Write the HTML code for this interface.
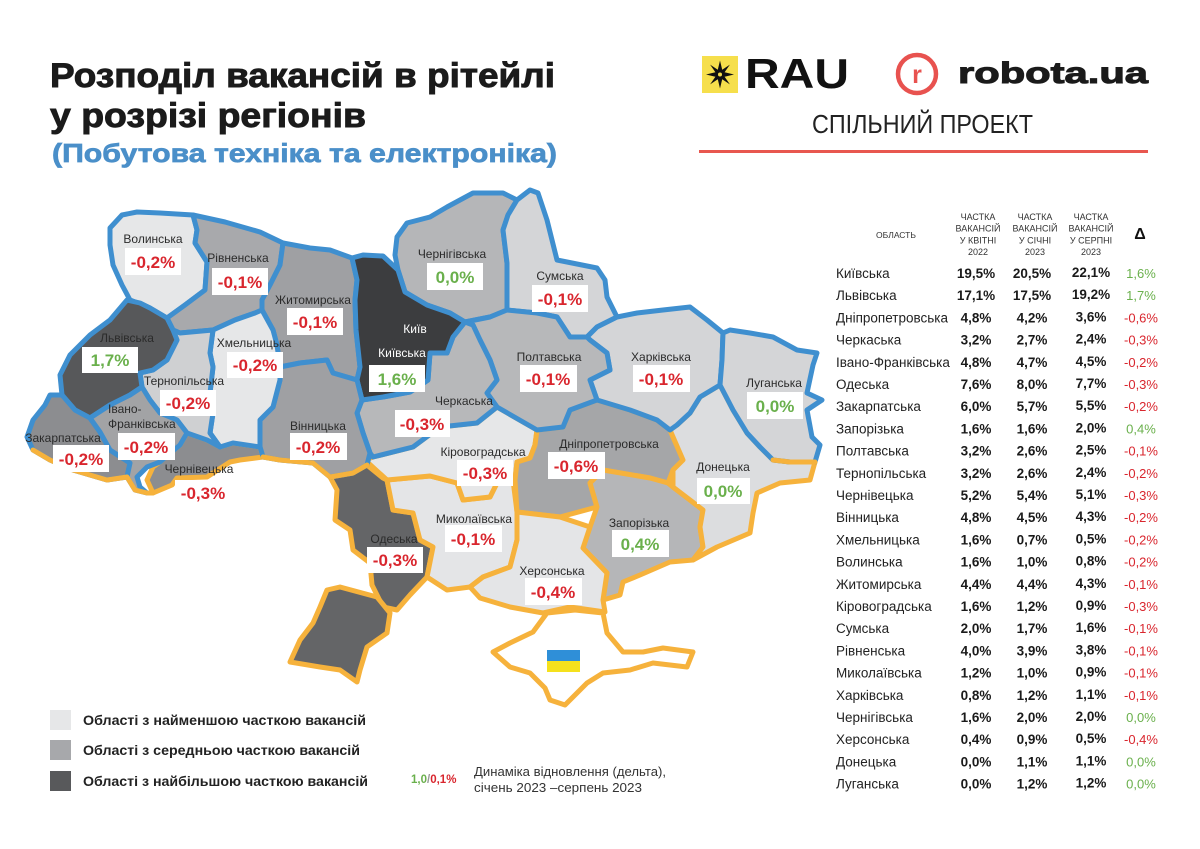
<!DOCTYPE html>
<html><head><meta charset="utf-8">
<style>
html,body{margin:0;padding:0;background:#fff;}
body{width:1200px;height:849px;overflow:hidden;}
svg{display:block;}
text{font-family:"Liberation Sans",sans-serif;}
</style></head>
<body>
<svg width="1200" height="849" viewBox="0 0 1200 849" xmlns="http://www.w3.org/2000/svg">
<rect width="1200" height="849" fill="#fff"/>

<!-- Title -->
<text x="50" y="87" font-size="34" font-weight="bold" fill="#1b1b1b" stroke="#1b1b1b" stroke-width="0.9" textLength="505" lengthAdjust="spacingAndGlyphs">Розподіл вакансій в рітейлі</text>
<text x="50" y="127" font-size="34" font-weight="bold" fill="#1b1b1b" stroke="#1b1b1b" stroke-width="0.9" textLength="316" lengthAdjust="spacingAndGlyphs">у розрізі регіонів</text>
<text x="52" y="162" font-size="26" font-weight="bold" fill="#4a8fc9" stroke="#4a8fc9" stroke-width="0.7" textLength="505" lengthAdjust="spacingAndGlyphs">(Побутова техніка та електроніка)</text>

<!-- RAU logo -->
<rect x="702" y="56" width="36" height="37" fill="#f6df4c"/>
<polygon fill="#111" points="734,74.5 724.6,76.8 729.9,84.4 722.2,79.3 720,88.5 717.8,79.3 710.1,84.4 715.4,76.8 706,74.5 715.4,72.2 710.1,64.6 717.8,69.7 720,60.5 722.2,69.7 729.9,64.6 724.6,72.2"/>
<circle cx="720" cy="74.5" r="2" fill="#f6df4c"/>
<text x="745" y="88" font-size="42" font-weight="bold" fill="#111" textLength="104" lengthAdjust="spacingAndGlyphs">RAU</text>

<!-- robota.ua logo -->
<circle cx="917" cy="74" r="19" fill="none" stroke="#e8524f" stroke-width="4.5"/>
<text x="917" y="83" font-size="25" font-weight="bold" fill="#e8524f" text-anchor="middle">r</text>
<text x="958" y="83" font-size="30" font-weight="bold" fill="#1a1a1a" stroke="#1a1a1a" stroke-width="1" textLength="190" lengthAdjust="spacingAndGlyphs">robota.ua</text>

<text x="812" y="133" font-size="26" fill="#222" textLength="221" lengthAdjust="spacingAndGlyphs">СПІЛЬНИЙ ПРОЕКТ</text>
<rect x="699" y="150" width="449" height="3" fill="#e8574f"/>

<!-- MAP -->
<g stroke-linejoin="round" stroke-linecap="round" stroke-width="5">
<g stroke="#f6b23c">
<polygon fill="#8c8d90" points="147,480 153,467 160,462 180,445 187,433 207,440 220,447 233,443 260,447 263,457 240,460 230,462 207,477 177,478 172,485 153,493"/>
<polygon fill="#646567" points="330,477 353,473 367,465 383,478 387,480 393,510 413,513 420,540 433,547 427,577 410,595 397,610 383,607 372,585 370,563 353,550 350,530 335,520 337,490"/>
<polygon fill="#646567" points="320,607 327,590 340,587 377,597 390,613 387,633 367,647 360,670 357,682 340,670 320,667 290,662 300,640 313,623"/>
<polygon fill="#e4e5e7" points="387,480 430,476 457,483 463,500 490,497 497,483 513,480 517,512 517,540 510,567 483,577 470,587 447,590 427,577 433,547 420,540 413,513 393,510"/>
<polygon fill="#e6e7e8" points="365,460 373,457 413,447 440,427 477,423 497,407 537,430 535,445 530,458 517,462 515,480 513,480 497,483 490,497 463,500 457,483 430,476 387,480"/>
<polygon fill="#a5a6a8" points="537,430 563,427 570,410 597,400 630,410 657,420 670,430 683,460 673,470 668,483 650,478 603,470 590,483 597,507 560,517 517,512 515,480 517,462 530,458 535,445"/>
<polygon fill="#b5b6b8" points="590,483 603,470 650,478 668,483 673,487 690,500 703,510 700,527 703,547 693,560 670,562 640,575 623,582 620,595 603,600 607,573 583,548 590,527 597,507"/>
<polygon fill="#dcdddf" points="670,430 677,425 690,413 700,397 720,385 733,410 747,433 760,447 773,460 790,462 815,462 810,480 780,483 757,493 753,513 750,533 717,547 693,560 703,547 700,527 703,510 690,500 673,487 673,470 683,460"/>
<polygon fill="#e4e5e7" points="517,512 560,517 590,527 583,548 607,573 603,600 605,612 570,607 543,613 510,607 480,598 470,587 483,577 510,567 517,540"/>
<polygon fill="#ffffff" points="493,652 510,643 533,632 547,613 575,610 603,613 607,633 623,652 643,652 663,648 693,652 687,667 653,663 630,670 603,673 587,683 575,695 565,705 550,700 545,688 530,673 510,667"/>
</g>
<g stroke="#3f8fcf">
<polygon fill="#e6e7e8" points="110,228 122,215 137,212 160,213 193,215 197,230 195,243 207,262 205,290 185,305 167,318 150,308 130,300 122,285 113,265 110,245"/>
<polygon fill="#a8a9ac" points="193,215 225,222 260,232 283,243 280,265 270,285 262,300 262,310 255,313 235,320 213,330 180,333 173,330 167,318 185,305 205,290 207,262 195,243 197,230"/>
<polygon fill="#9fa0a3" points="283,243 310,248 330,250 352,258 357,280 355,300 356,330 360,367 357,380 333,373 327,360 300,363 280,367 277,345 273,330 262,310 262,300 270,285 280,265"/>
<polygon fill="#b5b6b8" points="395,255 397,237 407,223 430,217 447,207 473,193 503,193 517,200 508,215 503,230 507,263 507,310 490,317 465,322 450,313 427,305 405,292 398,270"/>
<polygon fill="#d4d5d7" points="517,200 530,190 538,193 547,220 557,260 597,268 605,280 607,297 617,317 597,327 587,337 570,337 557,317 537,313 507,310 507,263 503,230 508,215"/>
<polygon fill="#d4d5d7" points="587,337 597,327 617,317 637,313 663,310 690,307 707,320 723,333 722,360 720,385 700,397 690,413 677,425 670,430 657,420 630,410 597,400 590,380 610,370 607,353 590,340"/>
<polygon fill="#d4d5d7" points="723,333 730,330 750,333 773,337 797,350 817,353 813,365 807,393 822,400 807,410 812,437 820,445 815,462 790,462 773,460 760,447 747,433 733,410 720,385 722,360"/>
<polygon fill="#b7b8ba" points="465,322 490,317 507,310 537,313 557,317 570,337 587,337 590,340 607,353 610,370 590,380 597,400 570,410 563,427 537,430 497,407 487,393 497,380 490,360 480,340 473,325"/>
<polygon fill="#b7b8ba" points="430,353 447,353 453,337 465,322 473,325 480,340 490,360 497,380 487,393 497,407 477,423 440,427 413,447 373,457 370,453 363,433 357,413 362,400 383,397 410,392 428,380"/>
<polygon fill="#3c3d3f" points="352,258 363,255 383,256 398,270 405,292 427,305 450,313 465,322 453,337 447,353 430,353 428,380 410,392 383,397 362,400 357,380 360,367 356,330 355,300 357,280"/>
<polygon fill="#9fa0a3" points="280,367 300,363 327,360 333,373 357,380 362,400 357,413 363,433 370,453 367,465 353,473 330,477 313,463 280,460 263,457 258,440 260,420 273,407 280,380"/>
<polygon fill="#e6e7e8" points="213,330 235,320 255,313 262,310 273,330 277,345 280,367 280,380 273,407 260,420 260,447 233,443 220,447 210,433 213,413 210,393 213,367 210,353"/>
<polygon fill="#cfd0d2" points="173,330 180,333 213,330 210,353 213,367 210,393 213,413 210,433 220,447 207,440 187,433 177,420 160,413 150,400 142,387 140,373 153,370 167,360 177,340"/>
<polygon fill="#57585a" points="127,300 140,303 150,308 167,318 173,330 177,340 167,360 153,370 140,373 142,387 130,395 110,405 90,418 75,410 62,395 60,375 70,355 90,335 110,320"/>
<polygon fill="#8c8d90" points="45,405 50,395 62,395 75,410 90,418 100,432 110,450 130,463 127,477 107,480 73,470 50,460 33,450 27,437 33,420"/>
<polygon fill="#a2a3a5" points="90,418 110,405 130,395 142,387 150,400 160,413 177,420 187,433 180,445 160,462 147,467 137,477 140,487 147,493 135,490 127,477 130,463 110,450 100,432"/>
</g>
<g stroke="#f6b23c" fill="none">
<polyline points="33,450 50,460 73,470 107,480 127,477 135,490 147,493 153,493"/>
<polyline points="263,457 280,460 313,463 330,477 353,473 367,465"/>
<polyline points="773,460 790,462 815,462"/>
</g>
</g>

<!-- flag -->
<rect x="547" y="650" width="33" height="11" fill="#2f8fd8"/>
<rect x="547" y="661" width="33" height="11" fill="#f5e11d"/>

<!-- map labels -->
<g font-size="12" fill="#2b2b2b" text-anchor="middle">
<text x="153" y="243">Волинська</text>
<text x="238" y="262">Рівненська</text>
<text x="313" y="304">Житомирська</text>
<text x="127" y="342">Львівська</text>
<text x="254" y="347">Хмельницька</text>
<text x="184" y="385">Тернопільська</text>
<text x="108" y="413" text-anchor="start">Івано-</text>
<text x="108" y="428" text-anchor="start">Франківська</text>
<text x="63" y="442">Закарпатська</text>
<text x="199" y="473">Чернівецька</text>
<text x="318" y="430">Вінницька</text>
<text x="415" y="333" fill="#fff">Київ</text>
<text x="402" y="357" fill="#fff">Київська</text>
<text x="452" y="258">Чернігівська</text>
<text x="560" y="280">Сумська</text>
<text x="549" y="361">Полтавська</text>
<text x="661" y="361">Харківська</text>
<text x="774" y="387">Луганська</text>
<text x="464" y="405">Черкаська</text>
<text x="483" y="456">Кіровоградська</text>
<text x="609" y="448">Дніпропетровська</text>
<text x="723" y="471">Донецька</text>
<text x="639" y="527">Запорізька</text>
<text x="474" y="523">Миколаївська</text>
<text x="394" y="543">Одеська</text>
<text x="552" y="575">Херсонська</text>
</g>

<g fill="#fff">
<rect x="125" y="248" width="56" height="27"/>
<rect x="212" y="268" width="56" height="27"/>
<rect x="287" y="308" width="56" height="27"/>
<rect x="82" y="347" width="56" height="26"/>
<rect x="227" y="352" width="56" height="26"/>
<rect x="160" y="390" width="56" height="26"/>
<rect x="118" y="433" width="57" height="27"/>
<rect x="53" y="445" width="56" height="27"/>
<rect x="175" y="480" width="56" height="26"/>
<rect x="290" y="433" width="57" height="27"/>
<rect x="369" y="365" width="56" height="27"/>
<rect x="427" y="263" width="56" height="27"/>
<rect x="532" y="285" width="56" height="27"/>
<rect x="520" y="365" width="57" height="27"/>
<rect x="633" y="365" width="57" height="27"/>
<rect x="747" y="392" width="56" height="27"/>
<rect x="395" y="410" width="55" height="27"/>
<rect x="457" y="460" width="56" height="26"/>
<rect x="548" y="452" width="57" height="27"/>
<rect x="697" y="478" width="53" height="26"/>
<rect x="612" y="530" width="57" height="27"/>
<rect x="445" y="525" width="57" height="27"/>
<rect x="367" y="547" width="56" height="26"/>
<rect x="525" y="578" width="57" height="27"/>
</g>

<g font-size="17" font-weight="bold" text-anchor="middle" fill="#d9262e">
<text x="153" y="268">-0,2%</text>
<text x="240" y="288">-0,1%</text>
<text x="315" y="328">-0,1%</text>
<text x="110" y="366" fill="#6ab04c">1,7%</text>
<text x="255" y="371">-0,2%</text>
<text x="188" y="409">-0,2%</text>
<text x="146" y="453">-0,2%</text>
<text x="81" y="465">-0,2%</text>
<text x="203" y="499">-0,3%</text>
<text x="318" y="453">-0,2%</text>
<text x="397" y="385" fill="#6ab04c">1,6%</text>
<text x="455" y="283" fill="#6ab04c">0,0%</text>
<text x="560" y="305">-0,1%</text>
<text x="548" y="385">-0,1%</text>
<text x="661" y="385">-0,1%</text>
<text x="775" y="412" fill="#6ab04c">0,0%</text>
<text x="422" y="430">-0,3%</text>
<text x="485" y="479">-0,3%</text>
<text x="576" y="472">-0,6%</text>
<text x="723" y="497" fill="#6ab04c">0,0%</text>
<text x="640" y="550" fill="#6ab04c">0,4%</text>
<text x="473" y="545">-0,1%</text>
<text x="395" y="566">-0,3%</text>
<text x="553" y="598">-0,4%</text>
</g>

<!-- Legend -->
<rect x="50" y="710" width="21" height="20" fill="#e6e7e8"/>
<rect x="50" y="740" width="21" height="20" fill="#a7a8ab"/>
<rect x="50" y="771" width="21" height="20" fill="#58595b"/>
<g font-size="14" font-weight="bold" fill="#222">
<text x="83" y="725" textLength="283" lengthAdjust="spacingAndGlyphs">Області з найменшою часткою вакансій</text>
<text x="83" y="755" textLength="277" lengthAdjust="spacingAndGlyphs">Області з середньою часткою вакансій</text>
<text x="83" y="786" textLength="285" lengthAdjust="spacingAndGlyphs">Області з найбільшою часткою вакансій</text>
</g>
<text x="411" y="783" font-size="11.5" font-weight="bold"><tspan fill="#6ab04c">1,0</tspan><tspan fill="#999">/</tspan><tspan fill="#d9262e">0,1%</tspan></text>
<text x="474" y="776" font-size="12.5" fill="#333" textLength="192" lengthAdjust="spacingAndGlyphs">Динаміка відновлення (дельта),</text>
<text x="474" y="792" font-size="12.5" fill="#333" textLength="168" lengthAdjust="spacingAndGlyphs">січень 2023 –серпень 2023</text>

<!-- Table header -->
<g font-size="9" fill="#333" text-anchor="middle">
<text x="896" y="238" font-size="8.5">ОБЛАСТЬ</text>
<text x="978" y="220">ЧАСТКА</text><text x="978" y="231.6">ВАКАНСІЙ</text><text x="978" y="243.3">У КВІТНІ</text><text x="978" y="255">2022</text>
<text x="1035" y="220">ЧАСТКА</text><text x="1035" y="231.6">ВАКАНСІЙ</text><text x="1035" y="243.3">У СІЧНІ</text><text x="1035" y="255">2023</text>
<text x="1091" y="220">ЧАСТКА</text><text x="1091" y="231.6">ВАКАНСІЙ</text><text x="1091" y="243.3">У СЕРПНІ</text><text x="1091" y="255">2023</text>
</g>
<text x="1140" y="239" font-size="16" font-weight="bold" fill="#111" text-anchor="middle">Δ</text>

<!-- Table rows -->
<g font-size="13.5" fill="#222">
<text x="836" y="278">Київська</text>
<text x="836" y="300.2">Львівська</text>
<text x="836" y="322.4">Дніпропетровська</text>
<text x="836" y="344.6">Черкаська</text>
<text x="836" y="366.8">Івано-Франківська</text>
<text x="836" y="389">Одеська</text>
<text x="836" y="411.2">Закарпатська</text>
<text x="836" y="433.4">Запорізька</text>
<text x="836" y="455.6">Полтавська</text>
<text x="836" y="477.8">Тернопільська</text>
<text x="836" y="500">Чернівецька</text>
<text x="836" y="522.2">Вінницька</text>
<text x="836" y="544.4">Хмельницька</text>
<text x="836" y="566.6">Волинська</text>
<text x="836" y="588.8">Житомирська</text>
<text x="836" y="611">Кіровоградська</text>
<text x="836" y="633.2">Сумська</text>
<text x="836" y="655.4">Рівненська</text>
<text x="836" y="677.6">Миколаївська</text>
<text x="836" y="699.8">Харківська</text>
<text x="836" y="722">Чернігівська</text>
<text x="836" y="744.2">Херсонська</text>
<text x="836" y="766.4">Донецька</text>
<text x="836" y="788.6">Луганська</text>
</g>

<g font-size="13.5" font-weight="bold" fill="#1a1a1a" text-anchor="middle">
<text x="976" y="278">19,5%</text><text x="1032" y="278">20,5%</text><text x="1091" y="277">22,1%</text>
<text x="976" y="300.2">17,1%</text><text x="1032" y="300.2">17,5%</text><text x="1091" y="299.2">19,2%</text>
<text x="976" y="322.4">4,8%</text><text x="1032" y="322.4">4,2%</text><text x="1091" y="321.4">3,6%</text>
<text x="976" y="344.6">3,2%</text><text x="1032" y="344.6">2,7%</text><text x="1091" y="343.6">2,4%</text>
<text x="976" y="366.8">4,8%</text><text x="1032" y="366.8">4,7%</text><text x="1091" y="365.8">4,5%</text>
<text x="976" y="389">7,6%</text><text x="1032" y="389">8,0%</text><text x="1091" y="388">7,7%</text>
<text x="976" y="411.2">6,0%</text><text x="1032" y="411.2">5,7%</text><text x="1091" y="410.2">5,5%</text>
<text x="976" y="433.4">1,6%</text><text x="1032" y="433.4">1,6%</text><text x="1091" y="432.4">2,0%</text>
<text x="976" y="455.6">3,2%</text><text x="1032" y="455.6">2,6%</text><text x="1091" y="454.6">2,5%</text>
<text x="976" y="477.8">3,2%</text><text x="1032" y="477.8">2,6%</text><text x="1091" y="476.8">2,4%</text>
<text x="976" y="500">5,2%</text><text x="1032" y="500">5,4%</text><text x="1091" y="499">5,1%</text>
<text x="976" y="522.2">4,8%</text><text x="1032" y="522.2">4,5%</text><text x="1091" y="521.2">4,3%</text>
<text x="976" y="544.4">1,6%</text><text x="1032" y="544.4">0,7%</text><text x="1091" y="543.4">0,5%</text>
<text x="976" y="566.6">1,6%</text><text x="1032" y="566.6">1,0%</text><text x="1091" y="565.6">0,8%</text>
<text x="976" y="588.8">4,4%</text><text x="1032" y="588.8">4,4%</text><text x="1091" y="587.8">4,3%</text>
<text x="976" y="611">1,6%</text><text x="1032" y="611">1,2%</text><text x="1091" y="610">0,9%</text>
<text x="976" y="633.2">2,0%</text><text x="1032" y="633.2">1,7%</text><text x="1091" y="632.2">1,6%</text>
<text x="976" y="655.4">4,0%</text><text x="1032" y="655.4">3,9%</text><text x="1091" y="654.4">3,8%</text>
<text x="976" y="677.6">1,2%</text><text x="1032" y="677.6">1,0%</text><text x="1091" y="676.6">0,9%</text>
<text x="976" y="699.8">0,8%</text><text x="1032" y="699.8">1,2%</text><text x="1091" y="698.8">1,1%</text>
<text x="976" y="722">1,6%</text><text x="1032" y="722">2,0%</text><text x="1091" y="721">2,0%</text>
<text x="976" y="744.2">0,4%</text><text x="1032" y="744.2">0,9%</text><text x="1091" y="743.2">0,5%</text>
<text x="976" y="766.4">0,0%</text><text x="1032" y="766.4">1,1%</text><text x="1091" y="765.4">1,1%</text>
<text x="976" y="788.6">0,0%</text><text x="1032" y="788.6">1,2%</text><text x="1091" y="787.6">1,2%</text>
</g>

<g font-size="13" text-anchor="middle" fill="#d9262e">
<text x="1141" y="278" fill="#6ab04c">1,6%</text>
<text x="1141" y="300.2" fill="#6ab04c">1,7%</text>
<text x="1141" y="322.4">-0,6%</text>
<text x="1141" y="344.6">-0,3%</text>
<text x="1141" y="366.8">-0,2%</text>
<text x="1141" y="389">-0,3%</text>
<text x="1141" y="411.2">-0,2%</text>
<text x="1141" y="433.4" fill="#6ab04c">0,4%</text>
<text x="1141" y="455.6">-0,1%</text>
<text x="1141" y="477.8">-0,2%</text>
<text x="1141" y="500">-0,3%</text>
<text x="1141" y="522.2">-0,2%</text>
<text x="1141" y="544.4">-0,2%</text>
<text x="1141" y="566.6">-0,2%</text>
<text x="1141" y="588.8">-0,1%</text>
<text x="1141" y="611">-0,3%</text>
<text x="1141" y="633.2">-0,1%</text>
<text x="1141" y="655.4">-0,1%</text>
<text x="1141" y="677.6">-0,1%</text>
<text x="1141" y="699.8">-0,1%</text>
<text x="1141" y="722" fill="#6ab04c">0,0%</text>
<text x="1141" y="744.2">-0,4%</text>
<text x="1141" y="766.4" fill="#6ab04c">0,0%</text>
<text x="1141" y="788.6" fill="#6ab04c">0,0%</text>
</g>
</svg>
</body></html>
